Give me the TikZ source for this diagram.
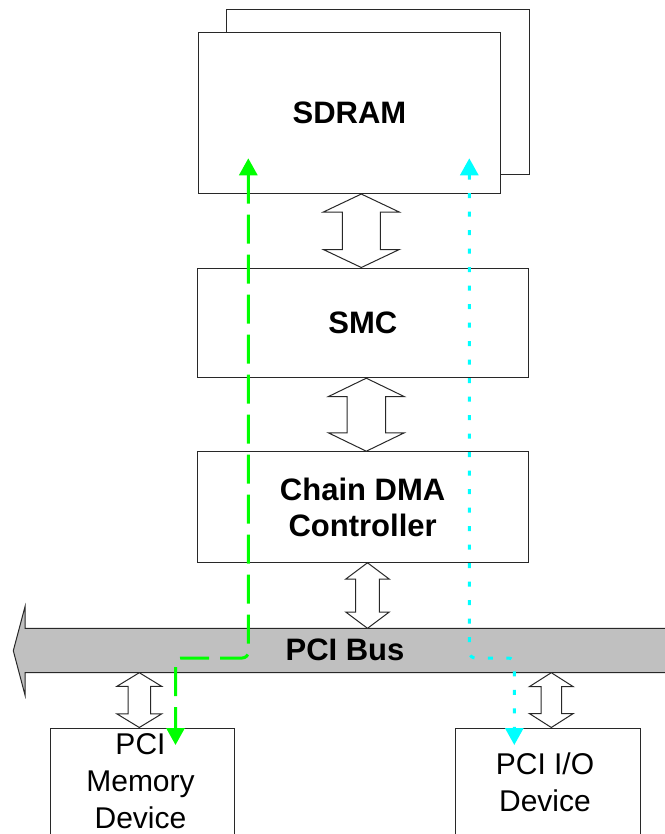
\documentclass[tikz,border=0pt]{standalone}
\usepackage{fontspec}
\setmainfont{Liberation Sans}
\usetikzlibrary{arrows.meta,calc}
\definecolor{pgreen}{RGB}{0,255,0}
\definecolor{pcyan}{RGB}{0,255,255}
\definecolor{busgray}{RGB}{192,192,192}
\definecolor{edge}{RGB}{40,40,40}
\newcommand\dblarrow[6]{%
  \draw[blk] let \p1=(#2), \p2=(#3) in
   (#1pt,\y1) -- (#1pt+#4pt,\y1-#6pt) -- (#1pt+#5pt,\y1-#6pt) -- (#1pt+#5pt,\y2+#6pt)
   -- (#1pt+#4pt,\y2+#6pt) -- (#1pt,\y2) -- (#1pt-#4pt,\y2+#6pt) -- (#1pt-#5pt,\y2+#6pt)
   -- (#1pt-#5pt,\y1-#6pt) -- (#1pt-#4pt,\y1-#6pt) -- cycle;}
\begin{document}
\begin{tikzpicture}[x=1pt,y=-1pt,
  box/.style={draw=edge, line width=1pt, fill=white, inner sep=0pt},
  boldtxt/.style={font=\fontsize{31}{36}\selectfont\bfseries, align=center},
  plaintxt/.style={font=\fontsize{30}{37}\selectfont, align=center, inner sep=0pt},
  blk/.style={draw=edge, line width=1pt, fill=white, line join=miter},
  gline/.style={draw=pgreen, line width=3pt, dash pattern=on 29pt off 11pt, rounded corners=6pt,
     {Triangle[width=18pt,length=17pt]}-{Triangle[width=18pt,length=17pt]}},
  cline/.style={draw=pcyan, line width=3pt, dash pattern=on 5pt off 13.5pt, rounded corners=6pt,
     {Triangle[width=18pt,length=17pt]}-{Triangle[width=18pt,length=17pt]}}
]
\useasboundingbox (0,0) rectangle (664,834);
\fill[white] (0,0) rectangle (664,834);

% SDRAM (two stacked boxes)
\node[box, minimum width=302.6pt, minimum height=164.7pt] (sdramback) at (378,92.35) {};
\node[box, boldtxt, minimum width=302.4pt, minimum height=160.7pt] (sdram) at (349.5,113.2) {SDRAM};

% SMC and DMA
\node[box, boldtxt, minimum width=331pt, minimum height=109.7pt] (smc) at (362.8,322.85) {SMC};
\node[box, boldtxt, minimum width=331.3pt, minimum height=110.6pt] (dma) at (362.65,507) {Chain DMA\\Controller};

% PCI bus
\draw[draw=edge, line width=1pt, fill=busgray] (670,628.3) -- (25,628.3) -- (25,606.7) -- (13.3,650.7)
  -- (25,695) -- (25,672.7) -- (670,672.7);
\coordinate (bustop) at (0,628.3);
\coordinate (busbot) at (0,672.7);
\node[boldtxt, inner sep=0pt] (buslabel) at (345,650) {PCI Bus};

% devices
\node[box, minimum width=183.6pt, minimum height=132pt] (mem) at (142.5,794) {};
\node[box, minimum width=184.3pt, minimum height=132pt] (io) at (547.85,794) {};
\node[plaintxt, anchor=north] (memtxt) at (140.5,733.3) {PCI\\Memory\\Device};
\node[plaintxt, anchor=north] (iotxt) at (545,752.3) {PCI I/O\\Device};

% block double arrows
\dblarrow{361.3}{sdram.south}{smc.north}{38}{19}{18}
\dblarrow{366.3}{smc.south}{dma.north}{38}{19.2}{18.4}
\dblarrow{367.5}{dma.south}{bustop}{21.8}{11.8}{16.3}
\dblarrow{139.3}{busbot}{mem.north}{22.5}{11.2}{13.7}
\dblarrow{551.3}{busbot}{io.north}{22}{10.3}{14}

% transfer paths
\coordinate (gA) at (248.3,158.3);
\coordinate (gB) at (175.5,745);
\draw[gline] (gA) -- (248.3,658) -- (175.5,658) -- (gB);
\coordinate (cA) at (469.3,158.3);
\coordinate (cB) at (514.3,745);
\draw[cline] (cA) -- (469.3,658) -- (514.3,658) -- (cB);
\end{tikzpicture}
\end{document}
